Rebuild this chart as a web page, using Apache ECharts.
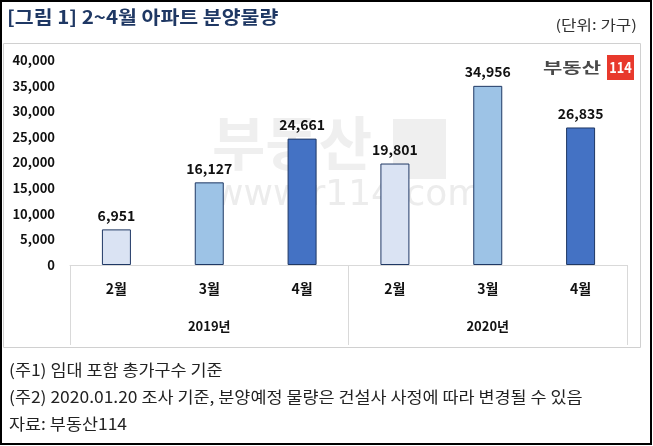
<!DOCTYPE html>
<html><head><meta charset="utf-8">
<script src="https://cdn.jsdelivr.net/npm/echarts@6/dist/echarts.min.js"></script>
<style>html,body{margin:0;padding:0;background:#fff}#c{width:653px;height:446px}</style>
</head><body><div id="c"></div>
<script>
const months = ['2월','3월','4월','2월','3월','4월'];
const years = ['2019년','2020년'];
const values = [6951, 16127, 24661, 19801, 34956, 26835];
const yTicks = [0, 5000, 10000, 15000, 20000, 25000, 30000, 35000, 40000];
const title = '[그림 1] 2~4월 아파트 분양물량';
const unit = '(단위: 가구)';
const notes = ['(주1) 임대 포함 총가구수 기준', '(주2) 2020.01.20 조사 기준, 분양예정 물량은 건설사 사정에 따라 변경될 수 있음', '자료: 부동산114'];

const F = '"Noto Sans CJK KR", "Noto Sans", sans-serif';
const fills = ['#dae3f3', '#9dc3e6', '#4472c4'];
const fmt = v => v.toLocaleString('en-US');

const chart = echarts.init(document.getElementById('c'), null, {renderer: 'canvas'});
chart.setOption({
  animation: false,
  backgroundColor: '#fff',
  textStyle: {fontFamily: F},
  grid: {left: 70, right: 26, top: 60, bottom: 181, containLabel: false},
  xAxis: [
    {type: 'category', data: months, position: 'bottom',
     axisLine: {lineStyle: {color: '#d9d9d9', width: 1}},
     axisTick: {show: false},
     axisLabel: {margin: 17, fontSize: 14, fontWeight: 'bold', color: '#111', fontFamily: F}},
    {type: 'category', data: years, position: 'bottom', gridIndex: 0,
     axisLine: {show: false},
     axisTick: {show: true, length: 80, interval: 0, lineStyle: {color: '#d9d9d9'}},
     axisLabel: {margin: 55, fontSize: 13, fontWeight: 'bold', color: '#111', fontFamily: F}}
  ],
  yAxis: {type: 'value', min: yTicks[0], max: yTicks[yTicks.length - 1], interval: yTicks[1] - yTicks[0],
    axisLine: {show: false}, axisTick: {show: false}, splitLine: {show: false},
    axisLabel: {margin: 15, fontSize: 13, fontWeight: 'bold', color: '#111', fontFamily: F, formatter: v => fmt(v)}},
  series: [{
    type: 'bar', xAxisIndex: 0, barWidth: 29, z: 5,
    data: values.map((v, i) => ({value: v, itemStyle: {color: fills[i % 3]}})),
    itemStyle: {borderColor: '#1f3864', borderWidth: 1},
    label: {show: true, position: 'top', distance: 7, fontSize: 14, fontWeight: 'bold', color: '#111', fontFamily: F,
      formatter: p => fmt(p.value)}
  }],
  graphic: [
    {type: 'rect', shape: {x: 1, y: 1, width: 650, height: 443}, style: {fill: 'none', stroke: '#000', lineWidth: 2}, z: 100},
    {type: 'rect', shape: {x: 3.5, y: 43.5, width: 637, height: 304}, style: {fill: 'none', stroke: '#d0d0d0', lineWidth: 1}, z: 1},
    {type: 'text', x: 7, y: 8, scaleX: 1.14, style: {text: title, fontSize: 18, fontWeight: 'bold', fill: '#1f3864', fontFamily: F}},
    {type: 'text', x: 637, y: 18, scaleX: 1.2, style: {text: unit, fontSize: 14, fill: '#333', fontFamily: F, align: 'right'}},
    // logo
    {type: 'text', x: 543, y: 60, scaleX: 1.4, style: {text: '부동산', fontSize: 15, fontWeight: 'bold', fill: '#4a4a4a', fontFamily: F}},
    {type: 'rect', shape: {x: 607, y: 55, width: 27, height: 25}, style: {fill: '#e8392c'}},
    {type: 'text', x: 620.5, y: 67.5, scaleX: 0.85, style: {text: '114', fontSize: 15, fontWeight: 'bold', fill: '#fff', fontFamily: F, align: 'center', verticalAlign: 'middle'}},
    // watermark
    {type: 'text', x: 212, y: 114, z: 0, style: {text: '부동산', fontSize: 58, fontWeight: 'bold', fill: '#efefef', fontFamily: F}},
    {type: 'rect', z: 0, shape: {x: 393, y: 119, width: 53, height: 60}, style: {fill: '#efefef'}},
    {type: 'text', x: 214, y: 178, z: 0, style: {text: 'www.r114.com', fontSize: 36, fill: '#ececec', fontFamily: '"DejaVu Sans", sans-serif'}},
    // notes
    {type: 'text', x: 9, y: 362, scaleX: 1.09, style: {text: notes[0], fontSize: 16, fill: '#222', fontFamily: F}},
    {type: 'text', x: 9, y: 389, scaleX: 1.09, style: {text: notes[1], fontSize: 16, fill: '#222', fontFamily: F}},
    {type: 'text', x: 9, y: 416, scaleX: 1.09, style: {text: notes[2], fontSize: 16, fill: '#222', fontFamily: F}}
  ]
});
</script></body></html>
